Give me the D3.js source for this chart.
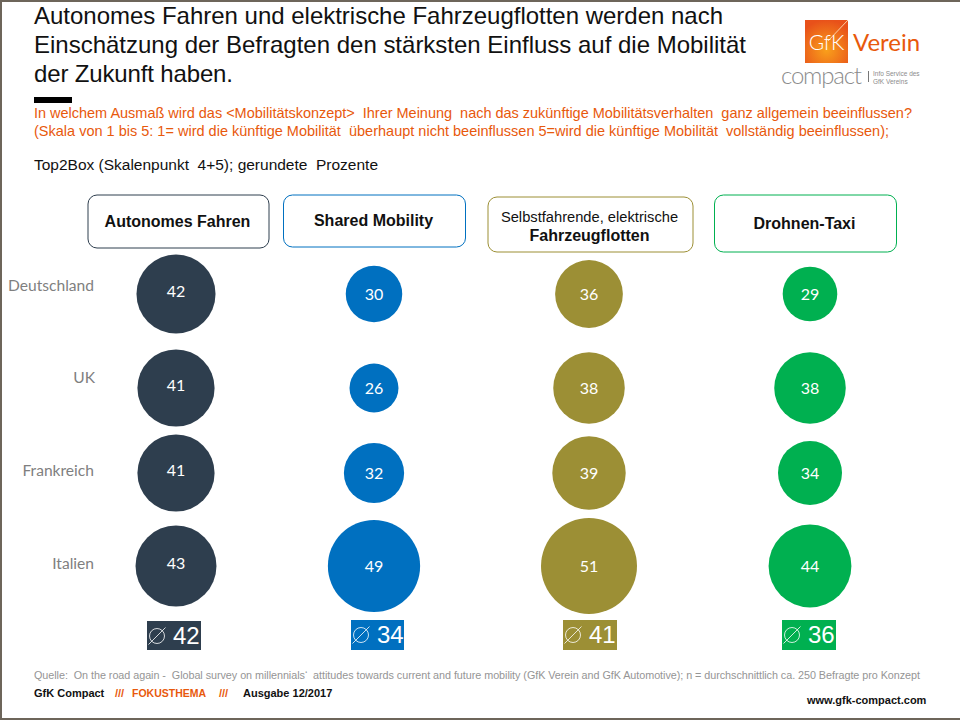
<!DOCTYPE html>
<html><head><meta charset="utf-8">
<script src="https://cdn.jsdelivr.net/npm/d3@7"></script>
<style>html,body{margin:0;padding:0;background:#fff}svg{display:block}text{font-family:"Liberation Sans",Arial,sans-serif;white-space:pre}</style>
</head><body><svg id="c" width="960" height="720"></svg>
<script>
const concepts = ["Autonomes Fahren","Shared Mobility","Fahrzeugflotten","Drohnen-Taxi"];
const countries = ["Deutschland","UK","Frankreich","Italien"];
const autonomes = [42,41,41,43];
const shared = [30,26,32,49];
const flotten = [36,38,39,51];
const drohnen = [29,38,34,44];
const averages = [42,34,41,36];
const colors = ["#2e3e4e","#0070c0","#9c8f35","#00b050"];
const series = [autonomes,shared,flotten,drohnen];

const svg = d3.select("#c");
const x = d3.scaleOrdinal().domain(concepts).range([176,374,589,810]);
const y = d3.scaleOrdinal().domain(countries).range([294,388,473,566]);
const r = d3.scaleLinear().domain([0,51]).range([0,48]);
const labelShift = d3.scaleOrdinal().domain(concepts).range([-3,0,0,0]);
const color = d3.scaleOrdinal().domain(concepts).range(colors);

const defs = svg.append("defs");
const g = defs.append("radialGradient").attr("id","logo").attr("cx","50%").attr("cy","70%").attr("r","70%");
g.append("stop").attr("offset","0%").attr("stop-color","#f9a01b");
g.append("stop").attr("offset","100%").attr("stop-color","#e8511a");

// frame
svg.append("path").attr("d","M960,1H1V719H960").attr("fill","none").attr("stroke","#6d655a").attr("stroke-width",2);

// title
[["Autonomes Fahren und elektrische Fahrzeugflotten werden nach",689],["Einschätzung der Befragten den stärksten Einfluss auf die Mobilität",712],["der Zukunft haben.",199]]
 .forEach((t,i)=>svg.append("text").attr("x",34).attr("y",24+i*29).attr("font-size",24).attr("fill","#111").attr("textLength",t[1]).text(t[0]));
svg.append("rect").attr("x",34).attr("y",97).attr("width",38).attr("height",6).attr("fill","#000");

[["In welchem Ausmaß wird das <Mobilitätskonzept>  Ihrer Meinung  nach das zukünftige Mobilitätsverhalten  ganz allgemein beeinflussen?",878],
 ["(Skala von 1 bis 5: 1= wird die künftige Mobilität  überhaupt nicht beeinflussen 5=wird die künftige Mobilität  vollständig beeinflussen);",855]]
 .forEach((t,i)=>svg.append("text").attr("x",34).attr("y",118+i*18).attr("font-size",14.5).attr("fill","#e8590c").attr("textLength",t[1]).text(t[0]));
svg.append("text").attr("x",34).attr("y",170).attr("font-size",15.5).attr("fill","#111").attr("textLength",344).text("Top2Box (Skalenpunkt  4+5); gerundete  Prozente");

// logo
svg.append("rect").attr("x",805).attr("y",20).attr("width",43).attr("height",43).attr("fill","url(#logo)");
svg.append("line").attr("x1",828).attr("y1",41).attr("x2",848).attr("y2",20).attr("stroke","#fbd2a8").attr("stroke-width",1);
svg.append("text").attr("x",826.5).attr("y",50).attr("text-anchor","middle").attr("font-size",21).attr("fill","#fff").style("font-family","Lato").style("font-weight",300).text("GfK");
svg.append("text").attr("x",853).attr("y",51).attr("font-size",24).attr("fill","#e8590c").style("font-family","Lato").text("Verein");
svg.append("text").attr("x",781).attr("y",84).attr("font-size",24).attr("fill","#8c8c8c").attr("textLength",81).style("font-family","Lato").style("font-weight",300).text("compact");
svg.append("rect").attr("x",868).attr("y",71).attr("width",1).attr("height",11).attr("fill","#777");
svg.append("text").attr("x",873).attr("y",76).attr("font-size",6.5).attr("fill","#8c8c8c").text("Info Service des");
svg.append("text").attr("x",873).attr("y",84).attr("font-size",6.5).attr("fill","#8c8c8c").text("GfK Vereins");

// header boxes
const boxes = [[88,195,181,53],[283.5,195,182,52],[488,197,205,55],[714.5,195,182,57]];
concepts.forEach((c,i)=>{
  const b=boxes[i];
  svg.append("rect").attr("x",b[0]).attr("y",b[1]).attr("width",b[2]).attr("height",b[3]).attr("rx",9)
    .attr("fill","#fff").attr("stroke",colors[i]).attr("stroke-width",1);
  if(i===2){
    svg.append("text").attr("x",b[0]+b[2]/2-1).attr("y",222).attr("text-anchor","middle").attr("font-size",14.7).attr("fill","#111").text("Selbstfahrende, elektrische");
    svg.append("text").attr("x",b[0]+b[2]/2-1).attr("y",241).attr("text-anchor","middle").attr("font-size",16).attr("font-weight","bold").attr("fill","#111").text(c);
  } else {
    svg.append("text").attr("x",b[0]+b[2]/2-1).attr("y",b[1]+b[3]/2+5).attr("text-anchor","middle").attr("font-size",16).attr("font-weight","bold").attr("fill","#111").text(c);
  }
});

// row labels
const labelX = d3.scaleOrdinal().domain(countries).range([94,95,94,94]);
const labelY = d3.scaleOrdinal().domain(countries).range([291,383,476,569]);
svg.selectAll(".row").data(countries).join("text").attr("class","row")
  .attr("x",d=>labelX(d)).attr("y",d=>labelY(d)).attr("text-anchor","end")
  .attr("font-size",15.6).attr("fill","#7f7f7f").style("font-family","Lato,sans-serif").text(d=>d);

// bubbles
concepts.forEach((c,i)=>{
  const cells = countries.map((k,j)=>({c,k,v:series[i][j]}));
  const s = svg.append("g");
  s.selectAll("circle").data(cells).join("circle")
    .attr("cx",d=>x(d.c)).attr("cy",d=>y(d.k)).attr("r",d=>r(d.v)).attr("fill",color(c));
  s.selectAll("text").data(cells).join("text")
    .attr("x",d=>x(d.c)).attr("y",d=>y(d.k)+5.5+labelShift(d.c)).attr("text-anchor","middle")
    .attr("font-size",16).attr("fill","#fff").style("font-family","Lato,sans-serif").text(d=>d.v);
});

// averages
const avgBoxes=[[147,621,54,29],[351,620,53,30],[563,620,54,30],[782,620,54,30]];
concepts.forEach((c,i)=>{
  const b=avgBoxes[i];
  svg.append("rect").attr("x",b[0]).attr("y",b[1]).attr("width",b[2]).attr("height",b[3]).attr("fill",colors[i]);
  const cx=b[0]+10, cy=b[1]+15;
  svg.append("circle").attr("cx",cx).attr("cy",cy).attr("r",7.5).attr("fill","none").attr("stroke","#fff").attr("stroke-width",0.8);
  svg.append("line").attr("x1",cx-8.5).attr("y1",cy+8.5).attr("x2",cx+8.5).attr("y2",cy-8.5).attr("stroke","#fff").attr("stroke-width",0.8);
  svg.append("text").attr("x",b[0]+26).attr("y",b[1]+23).attr("font-size",24).attr("fill","#fff").text(averages[i]);
});

// footer
svg.append("text").attr("x",34).attr("y",679).attr("font-size",10.8).attr("fill","#959595").attr("textLength",886).text("Quelle:  On the road again -  Global survey on millennials‘  attitudes towards current and future mobility (GfK Verein and GfK Automotive); n = durchschnittlich ca. 250 Befragte pro Konzept");
const f = (xx,t,col,fs)=>svg.append("text").attr("x",xx).attr("y",697).attr("font-size",fs).attr("font-weight","bold").attr("fill",col).text(t);
f(34,"GfK Compact","#111",11); f(115,"///","#e8590c",11); f(132,"FOKUSTHEMA","#e8590c",10.5); f(219,"///","#e8590c",11); f(243,"Ausgabe 12/2017","#111",11);
svg.append("text").attr("x",807).attr("y",704).attr("font-size",11).attr("font-weight","bold").attr("fill","#111").text("www.gfk-compact.com");
</script></body></html>
